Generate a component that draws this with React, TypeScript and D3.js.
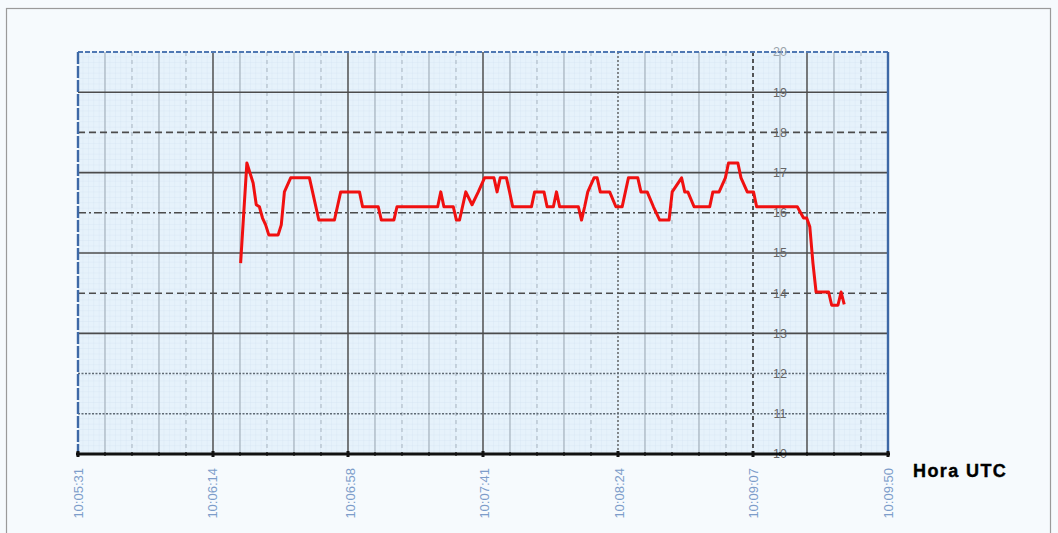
import React, { useEffect, useRef } from 'react';
import * as d3 from 'd3';

// Temperature-like readings, time (UTC) vs value
const times = [
  '10:06:23', '10:06:25', '10:06:27', '10:06:28', '10:06:29', '10:06:30', '10:06:31', '10:06:32',
  '10:06:35', '10:06:36', '10:06:37', '10:06:39', '10:06:45', '10:06:46', '10:06:48', '10:06:53',
  '10:06:55', '10:07:01', '10:07:02', '10:07:07', '10:07:08', '10:07:12', '10:07:13', '10:07:26',
  '10:07:27', '10:07:28', '10:07:31', '10:07:32', '10:07:33', '10:07:35', '10:07:37', '10:07:39',
  '10:07:41', '10:07:44', '10:07:45', '10:07:46', '10:07:48', '10:07:49', '10:07:50', '10:07:56',
  '10:07:57', '10:08:00', '10:08:01', '10:08:03', '10:08:04', '10:08:05', '10:08:11', '10:08:12',
  '10:08:13', '10:08:14', '10:08:16', '10:08:17', '10:08:18', '10:08:21', '10:08:23', '10:08:25',
  '10:08:27', '10:08:30', '10:08:31', '10:08:33', '10:08:35', '10:08:37', '10:08:40', '10:08:41',
  '10:08:44', '10:08:45', '10:08:46', '10:08:48', '10:08:53', '10:08:54', '10:08:56', '10:08:58',
  '10:08:59', '10:09:02', '10:09:03', '10:09:05', '10:09:07', '10:09:08', '10:09:21', '10:09:23',
  '10:09:24', '10:09:25', '10:09:26', '10:09:27', '10:09:31', '10:09:32', '10:09:34', '10:09:35',
  '10:09:36',
];
const values = [
  14.75, 17.24, 16.74, 16.2, 16.15, 15.87, 15.7, 15.45,
  15.45, 15.7, 16.52, 16.87, 16.87, 16.52, 15.82, 15.82,
  16.52, 16.52, 16.15, 16.15, 15.82, 15.82, 16.15, 16.15,
  16.52, 16.15, 16.15, 15.82, 15.82, 16.52, 16.2, 16.52,
  16.87, 16.87, 16.52, 16.87, 16.87, 16.52, 16.15, 16.15,
  16.52, 16.52, 16.15, 16.15, 16.52, 16.15, 16.15, 15.82,
  16.15, 16.52, 16.87, 16.87, 16.52, 16.52, 16.15, 16.15,
  16.87, 16.87, 16.52, 16.52, 16.15, 15.82, 15.82, 16.52,
  16.87, 16.52, 16.52, 16.15, 16.15, 16.52, 16.52, 16.87,
  17.24, 17.24, 16.87, 16.52, 16.52, 16.15, 16.15, 15.87,
  15.87, 15.65, 14.75, 14.03, 14.03, 13.7, 13.7, 14.03,
  13.72,
];
const xTickLabels = ['10:05:31', '10:06:14', '10:06:58', '10:07:41', '10:08:24', '10:09:07', '10:09:50'];
const yTickLabels = [10, 11, 12, 13, 14, 15, 16, 17, 18, 19, 20];

const App = () => {
  const ref = useRef<SVGSVGElement | null>(null);

  useEffect(() => {
    const width = 1058;
    const height = 533;
    const margin = { top: 52, right: 170, bottom: 79, left: 78 };
    const parse = d3.timeParse('%H:%M:%S');

    const svg = d3.select(ref.current);
    svg.selectAll('*').remove();

    const start = parse(xTickLabels[0]) as Date;
    const end = parse(xTickLabels[xTickLabels.length - 1]) as Date;

    const x = d3.scaleTime().domain([start, end]).range([margin.left, width - margin.right]);
    const y = d3.scaleLinear().domain([10, 20]).range([height - margin.bottom, margin.top]);

    // page background and frame
    svg.append('rect').attr('width', width).attr('height', height).attr('fill', '#f6fafd');
    svg
      .append('rect')
      .attr('x', 6.5)
      .attr('y', 8.5)
      .attr('width', 1044)
      .attr('height', 540)
      .attr('fill', 'none')
      .attr('stroke', '#9a9a9a')
      .attr('stroke-width', 1.2);

    // graph-paper background
    const defs = svg.append('defs');
    const pat = defs
      .append('pattern')
      .attr('id', 'paper')
      .attr('width', 5.4)
      .attr('height', 5.4)
      .attr('patternUnits', 'userSpaceOnUse')
      .attr('x', margin.left)
      .attr('y', margin.top);
    pat.append('rect').attr('width', 5.4).attr('height', 5.4).attr('fill', '#e6f2fb');
    pat
      .append('path')
      .attr('d', 'M5.4 0V5.4M0 5.4H5.4')
      .attr('stroke', '#cee1f0')
      .attr('stroke-width', 0.6);

    const [x0, x1] = x.range();
    const [y0, y1] = y.range();
    svg
      .append('rect')
      .attr('x', x0)
      .attr('y', y1)
      .attr('width', x1 - x0)
      .attr('height', y0 - y1)
      .attr('fill', 'url(#paper)');

    // vertical grid: 30 sub-intervals, 5 per labelled step
    const step = (end.getTime() - start.getTime()) / 30;
    const vIdx = d3.range(1, 30);
    const vStyle = (i: number) => {
      if (i === 5 || i === 10 || i === 15 || i === 27) return { c: '#505050', w: 1.5, d: null };
      if (i === 20) return { c: '#505050', w: 1.3, d: '2,2' };
      if (i === 25) return { c: '#3a3a3a', w: 1.7, d: '4,3' };
      if (i % 5 === 2 || i % 5 === 4) return { c: '#a6b3bf', w: 1, d: '4,4' };
      return { c: '#aab6c1', w: 1.3, d: null };
    };
    svg
      .append('g')
      .selectAll('line')
      .data(vIdx)
      .enter()
      .append('line')
      .attr('x1', (i) => x(new Date(start.getTime() + i * step)))
      .attr('x2', (i) => x(new Date(start.getTime() + i * step)))
      .attr('y1', y1)
      .attr('y2', y0)
      .attr('stroke', (i) => vStyle(i).c)
      .attr('stroke-width', (i) => vStyle(i).w)
      .attr('stroke-dasharray', (i) => vStyle(i).d);

    // horizontal grid with mixed styles
    const hStyle: Record<number, string | null> = {
      19: null,
      18: '7,4',
      17: null,
      16: '8,3,2,3',
      15: null,
      14: '7,4',
      13: null,
      12: '2,1.5',
      11: '2,1.5',
    };
    svg
      .append('g')
      .selectAll('line')
      .data(yTickLabels.filter((v) => v > 10 && v < 20))
      .enter()
      .append('line')
      .attr('x1', x0)
      .attr('x2', x1)
      .attr('y1', (v) => y(v))
      .attr('y2', (v) => y(v))
      .attr('stroke', (v) => (v > 12 ? '#4c4c4c' : '#5f6a74'))
      .attr('stroke-width', (v) => (v > 12 ? 1.6 : 1.5))
      .attr('stroke-dasharray', (v) => hStyle[v]);

    // top border (dashed blue)
    svg
      .append('line')
      .attr('x1', x0)
      .attr('x2', x1)
      .attr('y1', y(20))
      .attr('y2', y(20))
      .attr('stroke', '#4f78b3')
      .attr('stroke-width', 2)
      .attr('stroke-dasharray', '5,2');

    // left and right blue axis lines
    svg
      .append('line')
      .attr('x1', x0)
      .attr('x2', x0)
      .attr('y1', y1)
      .attr('y2', y0)
      .attr('stroke', '#3d68a6')
      .attr('stroke-width', 2.4)
      .attr('stroke-dasharray', '12,2');
    svg
      .append('line')
      .attr('x1', x1)
      .attr('x2', x1)
      .attr('y1', y1)
      .attr('y2', y0)
      .attr('stroke', '#3d68a6')
      .attr('stroke-width', 2.4);

    // y labels drawn inside the plot
    svg
      .append('g')
      .selectAll('text')
      .data(yTickLabels)
      .enter()
      .append('text')
      .attr('x', 780)
      .attr('y', (v) => y(v))
      .attr('dy', '0.35em')
      .attr('text-anchor', 'middle')
      .attr('font-family', 'Liberation Sans, Arial, sans-serif')
      .attr('font-size', 12.5)
      .attr('fill', (v) => (v === 20 ? '#9aa3ab' : '#666'))
      .text((v) => v);

    // bottom axis
    svg
      .append('line')
      .attr('x1', x0 - 2)
      .attr('x2', x1 + 2)
      .attr('y1', y0)
      .attr('y2', y0)
      .attr('stroke', '#111')
      .attr('stroke-width', 2.8);
    svg
      .append('g')
      .selectAll('line')
      .data(d3.range(0, 31))
      .enter()
      .append('line')
      .attr('x1', (i) => x(new Date(start.getTime() + i * step)))
      .attr('x2', (i) => x(new Date(start.getTime() + i * step)))
      .attr('y1', (i) => (i % 5 === 0 ? y0 - 3 : y0 - 2))
      .attr('y2', (i) => (i % 5 === 0 ? y0 + 3 : y0 + 2))
      .attr('stroke', '#111')
      .attr('stroke-width', (i) => (i % 5 === 0 ? 3 : 1.2));

    // x labels, rotated
    svg
      .append('g')
      .selectAll('text')
      .data(xTickLabels)
      .enter()
      .append('text')
      .attr('transform', (d) => `translate(${x(parse(d) as Date)},468) rotate(-90)`)
      .attr('dy', '0.35em')
      .attr('text-anchor', 'end')
      .attr('font-family', 'Liberation Sans, Arial, sans-serif')
      .attr('font-size', 13)
      .attr('fill', '#7d9dca')
      .text((d) => d);

    svg
      .append('text')
      .attr('x', 913)
      .attr('y', 477)
      .attr('font-family', 'Liberation Sans, Arial, sans-serif')
      .attr('font-weight', 'bold')
      .attr('font-size', 18)
      .attr('letter-spacing', 1.4)
      .attr('fill', '#000')
      .attr('stroke', '#000')
      .attr('stroke-width', 0.4)
      .text('Hora UTC');

    // the red series
    const data = times.map((t, i) => ({ t: parse(t) as Date, v: values[i] }));
    const line = d3
      .line<{ t: Date; v: number }>()
      .x((d) => x(d.t))
      .y((d) => y(d.v));
    svg
      .append('path')
      .datum(data)
      .attr('d', line)
      .attr('fill', 'none')
      .attr('stroke', '#f01010')
      .attr('stroke-width', 3)
      .attr('stroke-linejoin', 'round');

    return () => {
      svg.selectAll('*').remove();
    };
  }, []);

  return (
    <svg
      ref={ref}
      width={1058}
      height={533}
      style={{ position: 'absolute', left: 0, top: 0, display: 'block' }}
    />
  );
};

export default App;
